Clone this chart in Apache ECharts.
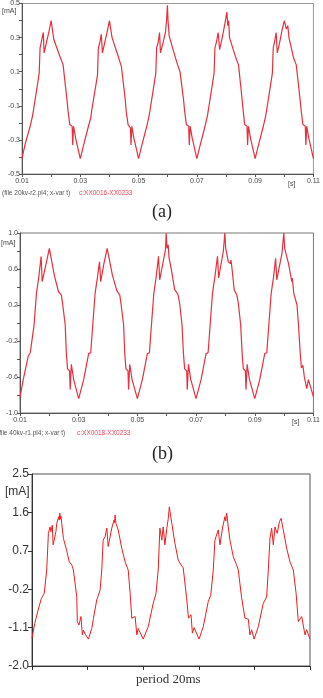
<!DOCTYPE html>
<html>
<head>
<meta charset="utf-8">
<script src="https://cdn.jsdelivr.net/npm/echarts@6/dist/echarts.min.js"></script>
<style>
  html, body { margin: 0; padding: 0; background: #fff; }
  #main { width: 323px; height: 698px; }
</style>
</head>
<body>
<div id="main"></div>
<script>
// time in ms, current in mA
const waveA = [
  [10,-0.41],[11,-0.33],[12.8,-0.22],[13.6,-0.16],[13.9,-0.13],[15.9,0.09],[16.2,0.24],[16.7,0.28],[17.3,0.33],[17.6,0.21],[18.5,0.28],[19.3,0.34],[20,0.40],[20.9,0.29],[23.2,0.18],[24.1,0.14],[25.4,-0.06],[25.8,-0.13],[26.4,-0.21],[27.2,-0.22],[27.4,-0.33],[27.7,-0.22],[28.4,-0.29],
  [30,-0.41],[31,-0.34],[32.8,-0.22],[33.6,-0.17],[33.9,-0.13],[35.9,0.08],[36.2,0.24],[36.7,0.27],[37.2,0.32],[37.6,0.21],[38.5,0.28],[39.3,0.34],[40,0.40],[40.9,0.30],[43.2,0.18],[44.1,0.13],[45.4,-0.06],[45.8,-0.14],[46.4,-0.21],[47.2,-0.23],[47.4,-0.33],[47.7,-0.22],[48.4,-0.29],
  [50,-0.41],[51,-0.34],[52.8,-0.22],[53.6,-0.16],[53.9,-0.13],[55.9,0.09],[56.2,0.24],[56.7,0.27],[57.2,0.33],[57.5,0.21],[58.4,0.27],[59.2,0.33],[59.6,0.40],[59.9,0.49],[60.1,0.40],[60.5,0.31],[61.5,0.25],[63.2,0.15],[64.2,0.10],[65.4,-0.06],[65.8,-0.13],[66.4,-0.21],[67.2,-0.22],[67.4,-0.33],[67.7,-0.22],[68.4,-0.29],
  [70,-0.41],[71,-0.34],[72.8,-0.22],[73.6,-0.16],[73.9,-0.13],[75.9,0.09],[76.2,0.24],[76.8,0.28],[77.3,0.33],[77.8,0.23],[78.7,0.30],[79.6,0.38],[80.3,0.45],[80.6,0.37],[80.9,0.40],[81.2,0.30],[83.4,0.18],[84.3,0.14],[85.5,-0.06],[85.9,-0.13],[86.4,-0.21],[87.2,-0.22],[87.4,-0.33],[87.7,-0.22],[88.4,-0.29],
  [90,-0.41],[91,-0.34],[92.8,-0.22],[93.6,-0.16],[93.9,-0.13],[95.9,0.09],[96.2,0.24],[96.7,0.28],[97.2,0.33],[97.6,0.21],[98.5,0.28],[99.3,0.35],[100,0.40],[100.7,0.35],[101.2,0.37],[101.6,0.30],[103.2,0.18],[104.1,0.14],[105.4,-0.06],[105.8,-0.13],[106.4,-0.21],[107.2,-0.22],[107.4,-0.33],[107.7,-0.22],[108.4,-0.29],[110,-0.41]
];

const waveB = [
  [10,-0.83],[11.1,-0.63],[12.8,-0.37],[13.5,-0.33],[14.1,-0.33],[14.8,-0.02],[15.6,0.33],[15.9,0.34],[16.4,0.51],[16.7,0.52],[17.2,0.74],[17.55,0.46],[18.9,0.66],[20,0.83],[21.7,0.53],[23.1,0.35],[24.1,0.31],[24.5,0.22],[25.4,-0.02],[25.8,-0.34],[26.2,-0.51],[26.9,-0.53],[27.1,-0.74],[27.5,-0.46],[28.3,-0.63],
  [30,-0.84],[31.7,-0.63],[33.4,-0.34],[34.1,-0.33],[34.8,-0.02],[35.6,0.33],[35.9,0.34],[36.4,0.51],[36.7,0.53],[37.1,0.68],[37.5,0.46],[38.6,0.66],[39.7,0.83],[41.5,0.53],[43.0,0.36],[44.0,0.31],[44.4,0.22],[45.3,-0.02],[45.7,-0.34],[46.1,-0.51],[46.8,-0.53],[47.0,-0.74],[47.4,-0.46],[48.2,-0.63],
  [50,-0.84],[51.7,-0.63],[53.4,-0.34],[54.1,-0.33],[54.8,-0.02],[55.6,0.33],[55.9,0.34],[56.4,0.51],[56.7,0.52],[57.2,0.74],[57.6,0.48],[58.9,0.70],[59.6,0.82],[59.8,1.0],[60.1,0.83],[60.5,0.87],[60.8,0.72],[61.6,0.59],[62.7,0.37],[63.8,0.32],[64.4,0.22],[65.2,-0.02],[65.7,-0.34],[66.1,-0.51],[66.8,-0.53],[67.0,-0.74],[67.4,-0.46],[68.2,-0.63],
  [70,-0.84],[71.7,-0.63],[73.4,-0.34],[74.1,-0.33],[74.8,-0.02],[75.6,0.33],[75.9,0.34],[76.4,0.51],[76.9,0.52],[77.3,0.74],[77.7,0.50],[79.3,0.80],[79.8,1.0],[80.1,0.83],[81.0,0.68],[81.7,0.66],[81.9,0.70],[82.2,0.62],[83.0,0.37],[83.9,0.31],[84.4,0.22],[85.2,-0.02],[85.7,-0.34],[86.1,-0.51],[86.8,-0.53],[87.0,-0.74],[87.4,-0.46],[88.2,-0.63],
  [90,-0.84],[91.7,-0.63],[93.4,-0.34],[94.1,-0.33],[94.8,-0.02],[95.6,0.33],[95.9,0.34],[96.4,0.51],[96.7,0.52],[97.1,0.72],[97.5,0.48],[99.3,0.78],[99.9,1.0],[100.2,0.83],[101.5,0.66],[102.4,0.50],[102.6,0.46],[102.8,0.50],[103.3,0.33],[104.4,0.20],[104.9,-0.02],[105.5,-0.34],[105.9,-0.50],[106.4,-0.47],[106.9,-0.60],[107.7,-0.73],[108.3,-0.63],[110,-0.82]
];

const waveC = [
  [0,-1.35],[1.0,-1.0],[2.2,-0.69],[3.4,-0.41],[4.4,-0.30],[5.3,0.25],[5.9,1.11],[6.5,1.26],[6.8,1.15],[7.3,1.30],[7.6,0.84],[8.6,1.15],[8.9,1.34],[9.6,1.50],[9.8,1.42],[10.0,1.58],[10.2,1.44],[10.4,1.52],[10.7,1.34],[11.3,0.99],[12.5,0.70],[13.4,0.44],[14.3,0.37],[14.9,0.25],[16.1,-0.38],[16.3,-0.96],[16.9,-1.04],[17.6,-0.84],[18.1,-1.27],[18.5,-1.16],[19.1,-1.25],
  [20.3,-1.37],[21.5,-1.12],[22.1,-0.88],[23.3,-0.45],[24.5,-0.22],[25.1,0.25],[25.6,0.95],[26.3,1.03],[26.9,1.23],[27.4,0.80],[28.7,1.23],[29.5,1.42],[29.7,1.36],[29.9,1.54],[30.2,1.34],[31.0,1.19],[32.3,0.76],[33.5,0.44],[34.6,0.25],[35.3,-0.30],[35.9,-0.88],[37.1,-0.84],[37.7,-1.27],[38.2,-1.12],
  [40.0,-1.37],[41.8,-1.08],[43.6,-0.53],[44.6,-0.30],[45.4,0.25],[46.0,1.23],[46.7,0.95],[47.2,1.26],[47.8,0.84],[48.5,1.23],[49.0,1.45],[49.4,1.73],[49.9,1.50],[50.3,1.34],[51.4,0.88],[52.6,0.48],[53.6,0.37],[54.4,0.30],[55.6,-0.40],[56.3,-0.88],[57.2,-0.80],[57.7,-1.23],[58.3,-1.10],
  [60.1,-1.37],[61.6,-1.08],[63.4,-0.49],[64.3,-0.34],[65.2,0.25],[65.8,0.95],[67.0,1.19],[67.6,0.84],[68.6,1.26],[69.4,1.50],[69.7,1.40],[70.0,1.58],[70.3,1.45],[70.6,1.26],[71.2,0.95],[72.4,0.56],[73.6,0.37],[74.2,0.25],[75.4,-0.40],[76.6,-0.88],[77.8,-0.90],[78.4,-1.27],[79.0,-1.15],
  [79.9,-1.37],[81.4,-1.08],[83.2,-0.53],[84.4,-0.38],[85.0,0.25],[85.6,0.99],[86.2,1.23],[86.8,0.84],[87.4,1.26],[88.2,1.11],[89.0,1.38],[89.6,1.46],[90.4,1.19],[91.6,0.76],[92.8,0.44],[94.0,0.25],[95.0,-0.30],[95.8,-0.96],[97.0,-0.84],[98.2,-1.27],[98.8,-1.15],[100,-1.37]
];

// labelled ticks
const yLabelsA = [-0.5, -0.3, -0.1, 0.1, 0.3, 0.5];
const yLabelsB = [-1.0, -0.6, -0.2, 0.2, 0.6, 1.0];
const yLabelsC = [-2.0, -1.1, -0.2, 0.7, 1.6, 2.5];
const xLabelsAB = [10, 30, 50, 70, 90, 110];

const SANS = '"Liberation Sans", Arial, sans-serif';
const SERIF = '"Liberation Serif", "Times New Roman", serif';
const RED = '#e8303c';

const has = (arr, v) => arr.some(a => Math.abs(a - v) < 1e-6);

function smallX(grid) {
  return {
    type: 'value', gridIndex: grid, min: 10, max: 110, interval: 10,
    axisLine: { onZero: false, lineStyle: { color: '#555', width: 1 } },
    axisTick: { length: 3, lineStyle: { color: '#555' } },
    axisLabel: {
      fontSize: 7, color: '#444', fontFamily: SANS, margin: 4,
      showMinLabel: true, showMaxLabel: true,
      formatter: v => has(xLabelsAB, v) ? (v / 1000).toFixed(2) : ''
    },
    splitLine: { show: false }
  };
}

function smallY(grid, min, max, step, labels) {
  return {
    type: 'value', gridIndex: grid, min: min, max: max, interval: step,
    axisLine: { show: true, onZero: false, lineStyle: { color: '#555', width: 1 } },
    axisTick: { show: true, length: 3, lineStyle: { color: '#555' } },
    axisLabel: {
      fontSize: 7, color: '#444', fontFamily: SANS, margin: 2,
      showMinLabel: true, showMaxLabel: true,
      formatter: v => has(labels, v) ? v.toFixed(1) : ''
    },
    splitLine: { show: false }
  };
}

const chart = echarts.init(document.getElementById('main'));

chart.setOption({
  animation: false,
  grid: [
    { left: 22, top: 0, width: 293, height: 174, show: true, borderColor: '#999', borderWidth: 1 },
    { left: 20, top: 233, width: 298, height: 180, show: true, borderColor: '#777', borderWidth: 1 },
    { left: 32, top: 474, width: 278, height: 192, show: true, borderColor: '#555', borderWidth: 1 }
  ],
  xAxis: [
    smallX(0),
    smallX(1),
    {
      type: 'value', gridIndex: 2, min: 0, max: 100, interval: 20,
      axisLine: { onZero: false, lineStyle: { color: '#333', width: 1 } },
      axisTick: { length: 4, lineStyle: { color: '#333' } },
      axisLabel: { show: false },
      splitLine: { show: false }
    }
  ],
  yAxis: [
    smallY(0, -0.5, 0.5, 0.1, yLabelsA),
    smallY(1, -1.0, 1.0, 0.2, yLabelsB),
    {
      type: 'value', gridIndex: 2, min: -2.0, max: 2.5,
      axisLine: { show: true, onZero: false, lineStyle: { color: '#333', width: 1 } },
      axisTick: { show: true, length: 4, lineStyle: { color: '#333' }, customValues: yLabelsC },
      axisLabel: {
        fontSize: 12, color: '#333', fontFamily: SANS, margin: 3,
        customValues: yLabelsC,
        formatter: v => v.toFixed(1)
      },
      splitLine: { show: false }
    }
  ],
  series: [
    { type: 'line', xAxisIndex: 0, yAxisIndex: 0, data: waveA, showSymbol: false,
      lineStyle: { color: RED, width: 1.2 } },
    { type: 'line', xAxisIndex: 1, yAxisIndex: 1, data: waveB, showSymbol: false,
      lineStyle: { color: RED, width: 1.2 } },
    { type: 'line', xAxisIndex: 2, yAxisIndex: 2, data: waveC, showSymbol: false,
      lineStyle: { color: '#f01c1c', width: 1 } }
  ],
  graphic: [
    // panel (a)
    { type: 'text', left: 2, top: 8, style: { text: '[mA]', font: '7px ' + SANS, fill: '#444' } },
    { type: 'text', left: 288, top: 181, style: { text: '[s]', font: '7px ' + SANS, fill: '#444' } },
    { type: 'text', left: 2, top: 190, style: { text: '(file 20kv-r2.pl4; x-var t)', font: '6.5px ' + SANS, fill: '#555' } },
    { type: 'text', left: 79, top: 190, style: { text: 'c:XX0016-XX0233', font: '6.5px ' + SANS, fill: '#f04858' } },
    { type: 'text', left: 152, top: 203, style: { text: '(a)', font: '18px ' + SERIF, fill: '#222' } },
    // panel (b)
    { type: 'text', left: 1, top: 240, style: { text: '[mA]', font: '7px ' + SANS, fill: '#444' } },
    { type: 'text', left: 292, top: 419, style: { text: '[s]', font: '7px ' + SANS, fill: '#444' } },
    { type: 'text', left: -3, top: 430, style: { text: '(file 40kv-r1.pl4; x-var t)', font: '6.5px ' + SANS, fill: '#555' } },
    { type: 'text', left: 77, top: 430, style: { text: 'c:XX0018-XX0233', font: '6.5px ' + SANS, fill: '#f04858' } },
    { type: 'text', left: 152, top: 445, style: { text: '(b)', font: '18px ' + SERIF, fill: '#222' } },
    // panel (c)
    { type: 'text', left: 5, top: 486, style: { text: '[mA]', font: '12px ' + SANS, fill: '#333' } },
    { type: 'text', left: 136, top: 673, style: { text: 'period 20ms', font: '13px ' + SERIF, fill: '#333' } }
  ]
});
</script>
</body>
</html>
